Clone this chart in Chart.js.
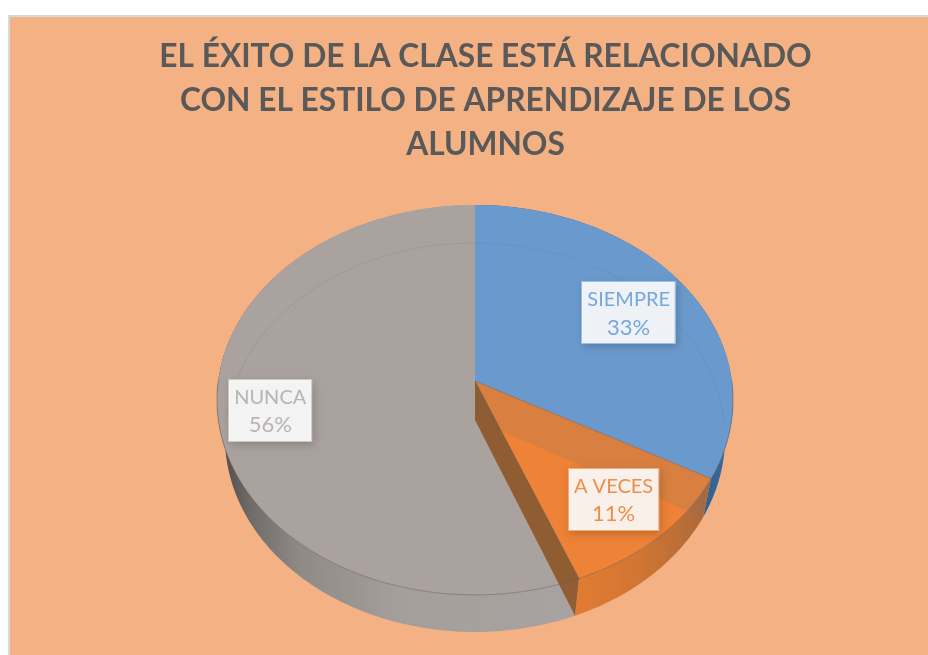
<!DOCTYPE html>
<html>
<head>
<meta charset="utf-8">
<script src="https://cdn.jsdelivr.net/npm/chart.js@4"></script>
<style>
html,body{margin:0;padding:0;background:#fff;overflow:hidden}
#panel{position:absolute;left:8px;top:15px;width:930px;height:650px;border-left:2px solid #d9d9d9;border-top:2px solid #d9d9d9;background:#f4b183}
canvas{display:block}
</style>
</head>
<body>
<div id="panel"><canvas id="c" width="918" height="638"></canvas></div>
<script>
const categories = ['SIEMPRE', 'A VECES', 'NUNCA'];
const values = [33, 11, 56];
const percentLabels = ['33%', '11%', '56%'];
const titleLines = ['EL ÉXITO DE LA CLASE ESTÁ RELACIONADO', 'CON EL ESTILO DE APRENDIZAJE DE LOS', 'ALUMNOS'];
const faceColors = ['#6a9acd', '#ee8236', '#a9a29e'];
const labelColors = ['#74a8dc', '#ef8d4d', '#b8b4b1'];
const labelRadii = [0.72, 0.77, 0.80];

// Perspective of the tilted disc, in canvas pixels (panel origin is 10,17)
const OX = 10, OY = 17;
const topFace = {x: 475 - OX, y: 381 - OY, a: 256.8, b: 193.1, k: -0.0974};
const baseFace = {x: 475 - OX, y: 420 - OY, a: 249, b: 192.9, k: -0.09};

function project(f, angle, r) {
  const u = r * Math.cos(angle), v = r * Math.sin(angle), d = 1 + f.k * v;
  return [f.x + f.a * u / d, f.y + f.b * v / d];
}
function tracePts(ctx, pts, start) {
  pts.forEach((p, i) => (i === 0 && start) ? ctx.moveTo(p[0], p[1]) : ctx.lineTo(p[0], p[1]));
}
function rim(f, a0, a1) {
  const n = Math.max(2, Math.ceil(Math.abs(a1 - a0) * 60)), out = [];
  for (let i = 0; i <= n; i++) out.push(project(f, a0 + (a1 - a0) * i / n, 1));
  return out;
}
function linear(ctx, x0, x1, stops) {
  const g = ctx.createLinearGradient(x0 - OX, 0, x1 - OX, 0);
  stops.forEach(s => g.addColorStop(s[0], s[1]));
  return g;
}
function cutWall(ctx, angle, fill) {
  const p0 = project(topFace, angle, 0), p1 = project(topFace, angle, 1);
  const q1 = project(baseFace, angle, 1), q0 = project(baseFace, angle, 0);
  ctx.beginPath();
  tracePts(ctx, [p0, p1, q1, q0], true);
  ctx.closePath();
  ctx.fillStyle = fill;
  ctx.fill();
}

const disc3d = {
  id: 'disc3d',
  beforeDatasetsDraw(chart) {
    const ctx = chart.ctx, arcs = chart.getDatasetMeta(0).data;
    ctx.save();
    const wallFills = [
      linear(ctx, 705, 733, [[0, '#2f5f92'], [1, '#3f6f9f']]),
      linear(ctx, 576, 712, [[0, '#e27b32'], [0.5, '#cf7533'], [1, '#a9683a']]),
      linear(ctx, 222, 576, [[0, '#4f4c4b'], [0.08, '#6f6b69'], [0.22, '#8f8a86'], [0.5, '#a49f9b'], [1, '#a8a3a0']])
    ];
    // outer walls
    arcs.forEach((el, i) => {
      ctx.beginPath();
      tracePts(ctx, rim(topFace, el.startAngle, el.endAngle), true);
      tracePts(ctx, rim(baseFace, el.endAngle, el.startAngle), false);
      ctx.closePath();
      ctx.fillStyle = wallFills[i];
      ctx.fill();
    });
    // top faces
    arcs.forEach((el, i) => {
      ctx.beginPath();
      tracePts(ctx, [project(topFace, el.startAngle, 0)], true);
      tracePts(ctx, rim(topFace, el.startAngle, el.endAngle), false);
      ctx.closePath();
      ctx.fillStyle = faceColors[i];
      ctx.fill();
    });
    // far rim of the base, seen through the translucent top
    ctx.beginPath();
    tracePts(ctx, rim(baseFace, Math.PI, 2 * Math.PI), true);
    ctx.strokeStyle = 'rgba(70,80,90,0.10)';
    ctx.lineWidth = 1;
    ctx.stroke();
    // cut faces of the small slice, seen through the top
    const small = arcs[1];
    cutWall(ctx, small.startAngle, 'rgba(110,115,120,0.17)');
    cutWall(ctx, small.endAngle, 'rgba(140,82,34,0.86)');
    // thin edges
    ctx.beginPath();
    tracePts(ctx, rim(topFace, 0, Math.PI), true);
    ctx.strokeStyle = 'rgba(90,85,85,0.45)';
    ctx.stroke();
    ctx.beginPath();
    tracePts(ctx, [project(topFace, small.startAngle, 1), project(topFace, small.startAngle, 0), project(topFace, small.endAngle, 1)], true);
    ctx.strokeStyle = 'rgba(80,70,70,0.35)';
    ctx.stroke();
    // data labels
    ctx.textAlign = 'center';
    ctx.textBaseline = 'middle';
    arcs.forEach((el, i) => {
      const p = project(topFace, (el.startAngle + el.endAngle) / 2, labelRadii[i]);
      ctx.font = '20px Lato, "Open Sans", sans-serif';
      const w = ctx.measureText(categories[i]).width + 12;
      const h = 63, x = Math.round(p[0] - w / 2), y = Math.round(p[1] - h / 2);
      ctx.save();
      ctx.shadowColor = 'rgba(0,0,0,0.2)';
      ctx.shadowBlur = 8;
      ctx.shadowOffsetX = 2;
      ctx.shadowOffsetY = 3;
      ctx.fillStyle = 'rgba(255,255,255,0.9)';
      ctx.fillRect(x, y, w, h);
      ctx.restore();
      ctx.strokeStyle = labelColors[i];
      ctx.globalAlpha = 0.7;
      ctx.lineWidth = 1;
      ctx.strokeRect(x + 0.5, y + 0.5, w - 1, h - 1);
      ctx.globalAlpha = 1;
      ctx.fillStyle = labelColors[i];
      ctx.fillText(categories[i], p[0], p[1] - 13);
      ctx.font = '22px Lato, "Open Sans", sans-serif';
      ctx.fillText(percentLabels[i], p[0], p[1] + 15);
    });
    ctx.restore();
    return false;
  }
};

new Chart(document.getElementById('c'), {
  type: 'pie',
  data: {
    labels: categories,
    datasets: [{data: values, backgroundColor: faceColors, borderWidth: 0}]
  },
  plugins: [disc3d],
  options: {
    responsive: false,
    animation: false,
    layout: {padding: {left: 33, right: 0, top: 0, bottom: 0}},
    plugins: {
      legend: {display: false},
      tooltip: {enabled: false},
      title: {
        display: true,
        text: titleLines,
        color: '#595959',
        font: {family: 'Lato, "Open Sans", sans-serif', size: 31.7, weight: 'bold', lineHeight: 1.39},
        padding: {top: 18, bottom: 10}
      }
    }
  }
});
</script>
</body>
</html>
